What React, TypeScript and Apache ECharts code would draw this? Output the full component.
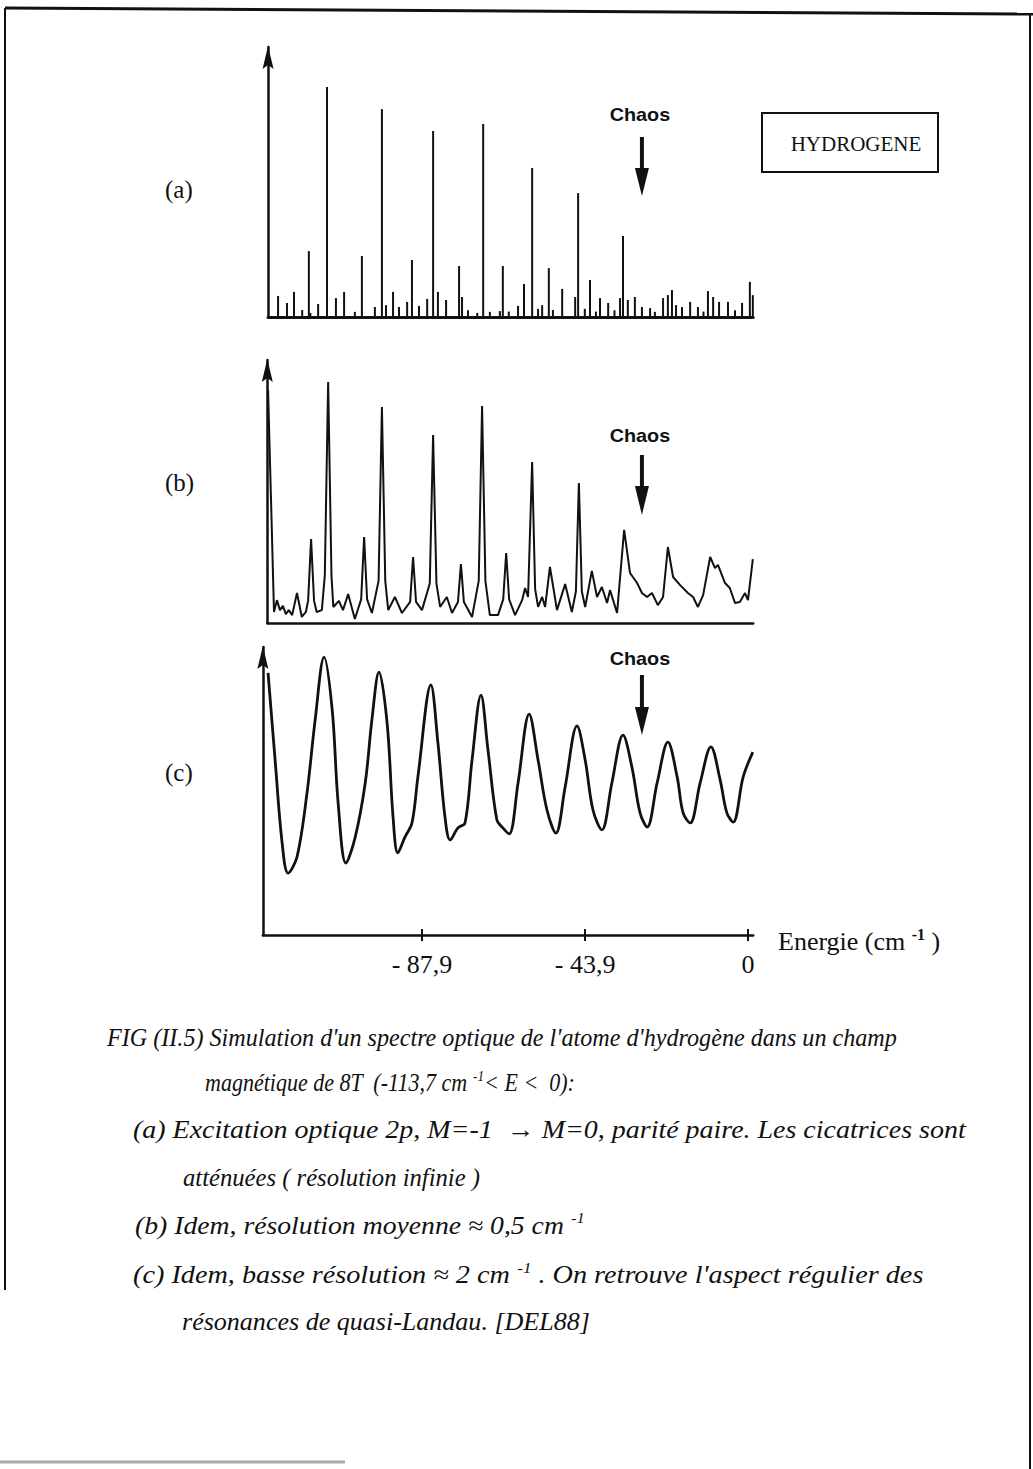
import React, { useEffect, useRef } from "react";
import * as echarts from "echarts";

// ---------------- data (energy in cm-1, intensity in % of axis height) ----------------
// (a) infinite resolution: stick spectrum
const stickEnergy = [
  -126.7, -124.3, -122.4, -120.2, -118.4, -118.0, -115.9, -113.5, -111.1, -108.9, -106.0, -104.1,
  -100.6, -98.7, -97.6, -95.7, -94.1, -91.9, -90.6, -88.7, -86.5, -84.9, -83.6, -81.4,
  -77.9, -77.1, -75.5, -73.0, -71.4, -69.6, -66.9, -66.1, -64.5, -62.0, -60.4, -58.2,
  -56.6, -55.5, -53.7, -52.6, -50.1, -46.6, -45.8, -44.0, -42.6, -41.0, -39.9, -37.7,
  -36.0, -34.5, -33.7, -32.4, -30.5, -28.6, -26.4, -25.1, -22.9, -21.6, -20.5, -19.4,
  -17.8, -15.6, -13.5, -12.0, -10.8, -9.4, -7.8, -5.4, -3.5, -1.6, 0.5, 1.3,
];
const stickIntensity = [
  7.8, 5.2, 9.3, 2.6, 24.4, 1.5, 4.8, 85.2, 7.0, 9.3, 1.9, 22.6,
  3.7, 77.0, 4.4, 9.3, 3.7, 5.6, 21.1, 4.1, 6.7, 68.9, 9.3, 6.3,
  18.9, 7.4, 2.5, 1.5, 71.5, 1.9, 2.2, 18.9, 2.0, 4.1, 12.2, 55.2,
  3.0, 4.4, 18.1, 2.6, 10.4, 7.4, 45.9, 3.0, 13.7, 2.0, 7.0, 5.2,
  2.5, 7.0, 30.0, 6.3, 7.4, 3.7, 3.3, 1.9, 7.0, 8.1, 10.0, 4.4,
  3.7, 5.6, 3.7, 2.0, 9.6, 7.4, 5.6, 5.6, 2.5, 5.2, 13.0, 8.1,
];

// (b) medium resolution (~0.5 cm-1)
const medEnergy = [
  -129.4, -128.6, -127.8, -127.0, -126.2, -125.4, -124.6, -123.8, -122.9, -121.6, -120.3, -119.2,
  -118.6, -117.8, -117.0, -116.3, -114.9, -114.1, -113.2, -112.3, -111.8, -110.3, -109.2, -107.8,
  -106.0, -104.3, -103.5, -102.7, -101.4, -99.6, -98.7, -97.8, -97.0, -95.2, -93.3, -91.1,
  -90.3, -89.5, -87.9, -85.8, -84.9, -84.0, -83.0, -81.2, -79.8, -78.2, -77.4, -76.6,
  -74.4, -72.6, -71.7, -70.8, -69.6, -67.4, -66.0, -65.2, -64.4, -62.8, -60.9, -60.1,
  -59.3, -58.2, -57.4, -56.6, -55.5, -54.7, -53.4, -51.5, -49.3, -47.5, -46.4, -45.6,
  -44.8, -43.9, -42.1, -40.7, -39.4, -38.0, -37.2, -35.3, -33.4, -31.8, -29.9, -28.6,
  -27.2, -25.9, -24.3, -22.9, -21.6, -20.2, -18.3, -16.2, -14.8, -13.5, -12.1, -10.2,
  -8.9, -8.1, -6.2, -4.9, -3.5, -2.2, -0.8, 0.0, 1.3,
];
const medIntensity = [
  88.6, 46.8, 4.2, 8.7, 4.9, 6.5, 3.4, 4.9, 3.0, 11.4, 2.3, 4.2,
  8.5, 31.9, 8.5, 4.2, 4.9, 18.0, 91.6, 18.0, 6.1, 8.4, 4.9, 11.0,
  1.5, 9.0, 32.7, 9.0, 3.8, 16.0, 82.1, 16.0, 4.9, 9.9, 3.8, 8.0,
  25.1, 8.0, 4.9, 15.0, 71.5, 15.0, 6.1, 9.9, 3.8, 8.0, 22.4, 8.0,
  2.3, 16.0, 82.5, 16.0, 3.0, 3.0, 9.0, 26.6, 9.0, 3.0, 8.7, 13.3,
  9.9, 61.2, 13.0, 6.1, 9.9, 6.1, 21.3, 4.9, 14.8, 4.2, 12.0, 53.2,
  12.0, 6.1, 19.8, 9.9, 13.7, 7.6, 12.5, 3.8, 35.4, 19.0, 15.2, 11.4,
  9.9, 11.4, 6.8, 9.9, 28.9, 17.5, 14.4, 11.4, 9.9, 6.1, 10.6, 25.1,
  20.9, 22.1, 15.2, 13.3, 7.6, 8.0, 11.4, 8.7, 24.3,
];

// (c) low resolution (~2 cm-1)
const lowEnergy = [
  -129.4, -127.5, -125.6, -124.0, -121.6, -118.9, -116.7, -114.3, -112.1, -110.5, -108.4, -105.9,
  -103.2, -101.4, -99.5, -97.3, -95.7, -94.4, -92.5, -90.6, -89.0, -85.5, -83.6, -81.7,
  -80.3, -78.2, -76.3, -74.4, -72.0, -70.1, -67.7, -66.1, -64.4, -62.0, -59.0, -56.6,
  -54.2, -51.8, -49.3, -46.1, -43.9, -41.8, -39.4, -36.7, -33.7, -31.3, -29.1, -27.2,
  -24.5, -21.6, -19.1, -17.5, -15.6, -12.9, -10.0, -7.5, -5.7, -4.0, -1.3, 1.3,
];
const lowIntensity = [
  91.0, 60.8, 31.9, 21.5, 27.1, 49.3, 74.7, 96.5, 78.1, 45.8, 25.0, 34.0,
  52.8, 74.7, 91.3, 73.6, 41.0, 28.5, 34.0, 38.9, 54.9, 86.8, 66.7, 41.0,
  33.0, 37.2, 38.9, 60.8, 83.3, 64.2, 39.9, 37.2, 35.1, 52.8, 76.7, 60.8,
  43.4, 35.4, 51.4, 72.6, 60.8, 43.4, 36.5, 52.8, 69.4, 58.3, 42.4, 37.5,
  52.8, 67.0, 54.9, 42.4, 38.9, 52.8, 65.3, 53.8, 42.4, 39.2, 54.9, 63.5,
];

const tickValues = [-87.9, -43.9, 0];
const tickLabels = ["- 87,9", "- 43,9", "0"];
const panelLabels = ["(a)", "(b)", "(c)"];
const chaosLabel = "Chaos";
const chaosEnergy = -28.6;
const boxLabel = "HYDROGENE";
const captionLines = [
  "FIG (II.5) Simulation d'un spectre optique de l'atome d'hydrogène dans un champ",
  "magnétique de 8T  (-113,7 cm {sup|-1}< E <  0):",
  "(a) Excitation optique 2p, M=-1  → M=0, parité paire. Les cicatrices sont",
  "atténuées ( résolution infinie )",
  "(b) Idem, résolution moyenne ≈ 0,5 cm {sup|-1}",
  "(c) Idem, basse résolution ≈ 2 cm {sup|-1} . On retrouve l'aspect régulier des",
  "résonances de quasi-Landau. [DEL88]",
];

// ---------------- layout ----------------
const ZERO_X = 748;
const PX_PER_UNIT = 3.709;
const X_MAX = 1.4;
const INK = "#111";
const SERIF = "'Liberation Serif', 'DejaVu Serif', serif";
const SANS = "'Liberation Sans', Arial, sans-serif";
const CAPTION_SIZE = 25;
const SUP_SIZE = 15;

const panelLayout = [
  { top: 47, height: 270, min: -129.4, axisWidth: 3, labelY: 189, chaosY: 115, shaft: [137, 168], head: 196 },
  { top: 360, height: 263, min: -129.6, axisWidth: 2.5, labelY: 482, chaosY: 436, shaft: [455, 486], head: 515 },
  { top: 647, height: 288, min: -130.8, axisWidth: 2.5, labelY: 772, chaosY: 659, shaft: [675, 707], head: 735 },
];
// left edge, right edge, vertical centre of each caption line
const captionLayout = [
  { x: 107, right: 897, y: 1037 },
  { x: 205, right: 575, y: 1083 },
  { x: 133, right: 966, y: 1130 },
  { x: 183, right: 480, y: 1177 },
  { x: 135, right: 585, y: 1225 },
  { x: 133, right: 924, y: 1275 },
  { x: 182, right: 590, y: 1322 },
];

const zip = (a: number[], b: number[]) => a.map((v, i) => [v, b[i]]);

function measureCaption(line: string): number {
  const ctx = document.createElement("canvas").getContext("2d");
  if (!ctx) return 1;
  const parts = line.split(/(\{sup\|[^}]*\})/);
  let w = 0;
  parts.forEach((p) => {
    const m = p.match(/^\{sup\|([^}]*)\}$/);
    if (m) {
      ctx.font = `italic ${SUP_SIZE}px ${SERIF}`;
      w += ctx.measureText(m[1]).width;
    } else if (p) {
      ctx.font = `italic ${CAPTION_SIZE}px ${SERIF}`;
      w += ctx.measureText(p).width;
    }
  });
  return w || 1;
}

export default function App() {
  const ref = useRef<HTMLDivElement>(null);

  useEffect(() => {
    if (!ref.current) return;
    const chart = echarts.init(ref.current, null, { renderer: "svg" });
    const xPix = (e: number) => ZERO_X + PX_PER_UNIT * e;

    const grids = panelLayout.map((p) => ({
      left: xPix(p.min),
      top: p.top,
      width: (X_MAX - p.min) * PX_PER_UNIT,
      height: p.height,
    }));

    const baseX = (i: number) => ({
      type: "value",
      gridIndex: i,
      min: panelLayout[i].min,
      max: X_MAX,
      axisLine: { show: true, onZero: false, lineStyle: { color: INK, width: panelLayout[i].axisWidth } },
      axisTick: { show: false },
      axisLabel: { show: false },
      splitLine: { show: false },
    });

    const xAxes: any[] = [baseX(0), baseX(1), baseX(2)];
    xAxes[2] = {
      ...xAxes[2],
      axisTick: { show: true, customValues: tickValues, length: 6, lineStyle: { color: INK, width: 2 } },
      axisLabel: {
        show: true,
        customValues: tickValues,
        margin: 16,
        color: INK,
        fontFamily: SERIF,
        fontSize: 26,
        formatter: (v: number) => {
          const k = tickValues.findIndex((t) => Math.abs(t - v) < 0.01);
          return k >= 0 ? tickLabels[k] : "";
        },
      },
    };
    xAxes.push({
      type: "value",
      gridIndex: 2,
      min: panelLayout[2].min,
      max: X_MAX,
      position: "bottom",
      axisLine: { show: false, onZero: false },
      axisTick: { show: true, inside: true, customValues: tickValues, length: 6, lineStyle: { color: INK, width: 2 } },
      axisLabel: { show: false },
      splitLine: { show: false },
    });

    const yAxes = panelLayout.map((p, i) => ({
      type: "value",
      gridIndex: i,
      min: 0,
      max: 100,
      axisLine: { show: true, onZero: false, lineStyle: { color: INK, width: 2.5 } },
      axisTick: { show: false },
      axisLabel: { show: false },
      splitLine: { show: false },
    }));

    const graphic: any[] = [];
    // page frame
    graphic.push(
      { type: "line", shape: { x1: 5, y1: 8, x2: 1033, y2: 14 }, style: { stroke: INK, lineWidth: 3 } },
      { type: "line", shape: { x1: 5, y1: 8, x2: 5, y2: 1290 }, style: { stroke: INK, lineWidth: 2 } },
      { type: "line", shape: { x1: 1030, y1: 14, x2: 1030, y2: 1469 }, style: { stroke: INK, lineWidth: 2 } },
      { type: "line", shape: { x1: 0, y1: 1462, x2: 345, y2: 1462 }, style: { stroke: "#aaa", lineWidth: 3 } }
    );
    panelLayout.forEach((p, i) => {
      // arrow head on the intensity axis
      const ax = xPix(p.min);
      graphic.push({
        type: "polygon",
        shape: { points: [[ax, p.top - 1], [ax - 5.5, p.top + 22], [ax, p.top + 18], [ax + 5.5, p.top + 22]] },
        style: { fill: INK },
        z: 100,
      });
      graphic.push({
        type: "text",
        x: 165,
        y: p.labelY,
        style: { text: panelLabels[i], fontFamily: SERIF, fontSize: 25, fill: INK, align: "left", verticalAlign: "middle" },
      });
      const cx = xPix(chaosEnergy);
      graphic.push({
        type: "text",
        x: cx - 2,
        y: p.chaosY,
        scaleX: 1.1,
        style: { text: chaosLabel, fontFamily: SANS, fontWeight: "bold", fontSize: 18, fill: INK, align: "center", verticalAlign: "middle" },
      });
      graphic.push({
        type: "rect",
        shape: { x: cx - 2, y: p.shaft[0], width: 4, height: p.shaft[1] - p.shaft[0] + 1 },
        style: { fill: INK },
      });
      graphic.push({
        type: "polygon",
        shape: { points: [[cx - 7, p.shaft[1]], [cx + 7, p.shaft[1]], [cx, p.head]] },
        style: { fill: INK },
      });
    });
    // HYDROGENE box
    graphic.push(
      { type: "rect", shape: { x: 762, y: 113, width: 176, height: 59 }, style: { fill: "none", stroke: INK, lineWidth: 2 } },
      {
        type: "text",
        x: 856,
        y: 144,
        style: { text: boxLabel, fontFamily: SERIF, fontSize: 21, fill: INK, align: "center", verticalAlign: "middle" },
      }
    );
    // axis title
    graphic.push({
      type: "text",
      x: 778,
      y: 941,
      style: {
        text: "Energie (cm {sup|-1} )",
        fontFamily: SERIF,
        fontSize: 26,
        fill: INK,
        align: "left",
        verticalAlign: "middle",
        lineHeight: 30,
        rich: { sup: { fontFamily: SERIF, fontSize: 16, fontWeight: "bold", fill: INK, verticalAlign: "top", lineHeight: 16 } },
      },
    });
    // caption
    captionLines.forEach((line, i) => {
      const c = captionLayout[i];
      const sx = (c.right - c.x) / measureCaption(line);
      graphic.push({
        type: "text",
        x: c.x,
        y: c.y,
        scaleX: sx,
        style: {
          text: line,
          fontFamily: SERIF,
          fontStyle: "italic",
          fontSize: CAPTION_SIZE,
          fill: INK,
          align: "left",
          verticalAlign: "middle",
          lineHeight: 30,
          rich: { sup: { fontFamily: SERIF, fontStyle: "italic", fontSize: SUP_SIZE, fill: INK, verticalAlign: "top", lineHeight: 15 } },
        },
      });
    });

    chart.setOption({
      animation: false,
      backgroundColor: "#fff",
      grid: grids,
      xAxis: xAxes,
      yAxis: yAxes,
      series: [
        {
          type: "bar",
          xAxisIndex: 0,
          yAxisIndex: 0,
          barWidth: 2,
          silent: true,
          itemStyle: { color: INK },
          data: zip(stickEnergy, stickIntensity),
        },
        {
          type: "line",
          xAxisIndex: 1,
          yAxisIndex: 1,
          showSymbol: false,
          silent: true,
          lineStyle: { color: INK, width: 2 },
          data: zip(medEnergy, medIntensity),
        },
        {
          type: "line",
          xAxisIndex: 2,
          yAxisIndex: 2,
          showSymbol: false,
          silent: true,
          smooth: 0.35,
          clip: false,
          lineStyle: { color: INK, width: 2.8 },
          data: zip(lowEnergy, lowIntensity),
        },
      ],
      graphic,
    });

    return () => chart.dispose();
  }, []);

  return <div ref={ref} style={{ position: "absolute", left: 0, top: 0, width: 1033, height: 1469 }} />;
}
